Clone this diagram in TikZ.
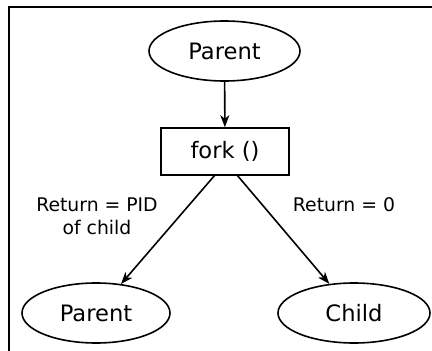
\documentclass[tikz,border=0pt]{standalone}
\usepackage{fontspec}
\setmainfont{DejaVu Sans}
\usetikzlibrary{shapes.geometric,arrows.meta}
\begin{document}
\begin{tikzpicture}[x=1pt,y=-1pt,
  every node/.style={font=\fontsize{22.6}{27}\selectfont},
  proc/.style={draw,line width=1.6pt,ellipse,minimum width=151pt,minimum height=60pt,inner sep=0pt},
  callbox/.style={draw,line width=1.6pt,rectangle,minimum width=128pt,minimum height=47pt,inner sep=0pt},
  conn/.style={line width=1.6pt,-{Stealth[length=12pt,width=9pt,inset=3.5pt]}},
  lbl/.style={align=center,inner sep=0pt,font=\fontsize{18.8}{23}\selectfont}]
\useasboundingbox (0,0) rectangle (432,351);
\fill[white] (0,0) rectangle (432,351);
\draw[line width=2.6pt] (9,360) -- (9,7) -- (440,7);
\node[proc] (p0) at (224.5,51) {Parent};
\node[callbox] (f) at (225,151.5) {fork ()};
\node[proc,minimum width=148pt] (p1) at (96,313) {Parent};
\node[proc,minimum width=152pt] (c) at (354,313) {Child};
\draw[conn] (p0) -- (f);
\coordinate (fl) at (215,175);
\coordinate (fr) at (237,175);
\draw[conn] (fl) -- (p1);
\draw[conn] (fr) -- (c);
\node[lbl] (l1) at (97,216) {Return = PID\\of child};
\node[lbl] (l2) at (344,205) {Return = 0};
\end{tikzpicture}
\end{document}
